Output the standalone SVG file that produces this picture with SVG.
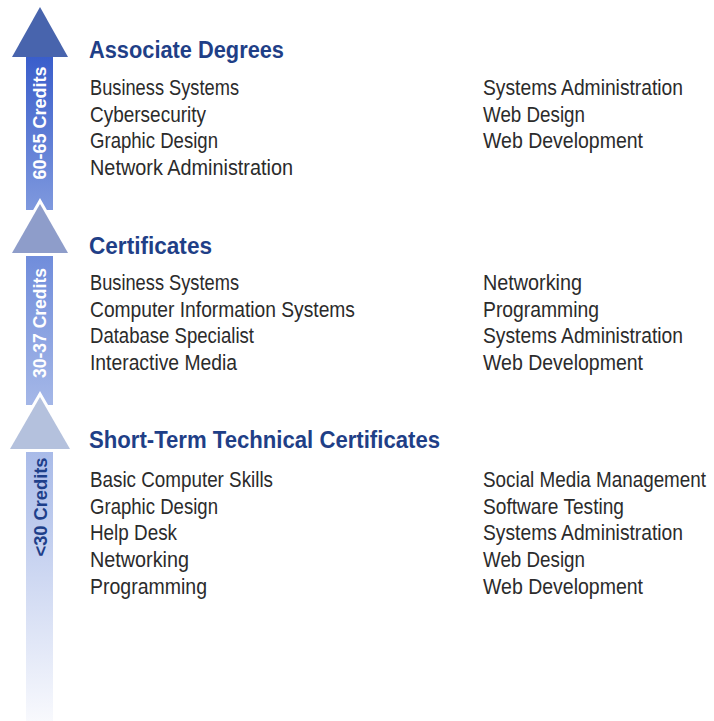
<svg xmlns="http://www.w3.org/2000/svg" width="714" height="721" viewBox="0 0 714 721">
<defs>
<linearGradient id="g1" x1="0" y1="57" x2="0" y2="210" gradientUnits="userSpaceOnUse"><stop offset="0" stop-color="#3a5ecb"/><stop offset="1" stop-color="#7f99de"/></linearGradient>
<linearGradient id="g2" x1="0" y1="253" x2="0" y2="400" gradientUnits="userSpaceOnUse"><stop offset="0" stop-color="#6f8cdb"/><stop offset="1" stop-color="#a3b6e7"/></linearGradient>
<linearGradient id="g3" x1="0" y1="449" x2="0" y2="721" gradientUnits="userSpaceOnUse"><stop offset="0" stop-color="#a8bae8"/><stop offset="1" stop-color="#f8f9fd"/></linearGradient>
<style>
.head{stroke:#fff;stroke-width:6;stroke-linejoin:miter;paint-order:stroke}
.lbl{font-family:"Liberation Sans",Arial,sans-serif;font-weight:bold;font-size:18px;text-anchor:middle}
.h{font-family:"Liberation Sans",Arial,sans-serif;font-weight:bold;font-size:23px;fill:#1f3f87}
.t{font-family:"Liberation Sans",Arial,sans-serif;font-size:22px;fill:#2b2b2b}
</style>
</defs>
<g id="arrows">
<g id="arrow-low">
<rect x="26" y="440" width="27" height="281" fill="url(#g3)"/>
</g>
<g id="arrow-mid">
<rect x="26" y="245" width="27" height="160" fill="url(#g2)"/>
</g>
<g id="arrow-top">
<rect x="26" y="50" width="27" height="160" fill="url(#g1)"/>
<polygon points="40,7 68,57 12,57" fill="#4864ad"/>
</g>
<polygon class="head" points="40,204 68,253 12,253" fill="#8e9dca"/>
<polygon class="head" points="40,397 70,449 10,449" fill="#b4c1dd"/>
<text class="lbl" fill="#ffffff" transform="translate(46,123) rotate(-90)" textLength="113" lengthAdjust="spacingAndGlyphs">60-65 Credits</text>
<text class="lbl" fill="#ffffff" transform="translate(46,323) rotate(-90)" textLength="110" lengthAdjust="spacingAndGlyphs">30-37 Credits</text>
<text class="lbl" fill="#1e3f8a" transform="translate(47,507) rotate(-90)" textLength="99" lengthAdjust="spacingAndGlyphs">&lt;30 Credits</text>
</g>
<g id="associate">
<text class="h" x="89" y="58" textLength="195" lengthAdjust="spacingAndGlyphs">Associate Degrees</text>
<text class="t" x="90" y="95" textLength="149" lengthAdjust="spacingAndGlyphs">Business Systems</text>
<text class="t" x="90" y="122" textLength="116" lengthAdjust="spacingAndGlyphs">Cybersecurity</text>
<text class="t" x="90" y="148" textLength="128" lengthAdjust="spacingAndGlyphs">Graphic Design</text>
<text class="t" x="90" y="175" textLength="203" lengthAdjust="spacingAndGlyphs">Network Administration</text>
<text class="t" x="483" y="95" textLength="200" lengthAdjust="spacingAndGlyphs">Systems Administration</text>
<text class="t" x="483" y="122" textLength="102" lengthAdjust="spacingAndGlyphs">Web Design</text>
<text class="t" x="483" y="148" textLength="160" lengthAdjust="spacingAndGlyphs">Web Development</text>
</g>
<g id="certificates">
<text class="h" x="89" y="254" textLength="123" lengthAdjust="spacingAndGlyphs">Certificates</text>
<text class="t" x="90" y="290" textLength="149" lengthAdjust="spacingAndGlyphs">Business Systems</text>
<text class="t" x="90" y="317" textLength="265" lengthAdjust="spacingAndGlyphs">Computer Information Systems</text>
<text class="t" x="90" y="343" textLength="164" lengthAdjust="spacingAndGlyphs">Database Specialist</text>
<text class="t" x="90" y="370" textLength="147" lengthAdjust="spacingAndGlyphs">Interactive Media</text>
<text class="t" x="483" y="290" textLength="99" lengthAdjust="spacingAndGlyphs">Networking</text>
<text class="t" x="483" y="317" textLength="116" lengthAdjust="spacingAndGlyphs">Programming</text>
<text class="t" x="483" y="343" textLength="200" lengthAdjust="spacingAndGlyphs">Systems Administration</text>
<text class="t" x="483" y="370" textLength="160" lengthAdjust="spacingAndGlyphs">Web Development</text>
</g>
<g id="short-term">
<text class="h" x="89" y="448" textLength="351" lengthAdjust="spacingAndGlyphs">Short-Term Technical Certificates</text>
<text class="t" x="90" y="487" textLength="183" lengthAdjust="spacingAndGlyphs">Basic Computer Skills</text>
<text class="t" x="90" y="514" textLength="128" lengthAdjust="spacingAndGlyphs">Graphic Design</text>
<text class="t" x="90" y="540" textLength="87" lengthAdjust="spacingAndGlyphs">Help Desk</text>
<text class="t" x="90" y="567" textLength="99" lengthAdjust="spacingAndGlyphs">Networking</text>
<text class="t" x="90" y="594" textLength="117" lengthAdjust="spacingAndGlyphs">Programming</text>
<text class="t" x="483" y="487" textLength="223" lengthAdjust="spacingAndGlyphs">Social Media Management</text>
<text class="t" x="483" y="514" textLength="141" lengthAdjust="spacingAndGlyphs">Software Testing</text>
<text class="t" x="483" y="540" textLength="200" lengthAdjust="spacingAndGlyphs">Systems Administration</text>
<text class="t" x="483" y="567" textLength="102" lengthAdjust="spacingAndGlyphs">Web Design</text>
<text class="t" x="483" y="594" textLength="160" lengthAdjust="spacingAndGlyphs">Web Development</text>
</g>
</svg>
